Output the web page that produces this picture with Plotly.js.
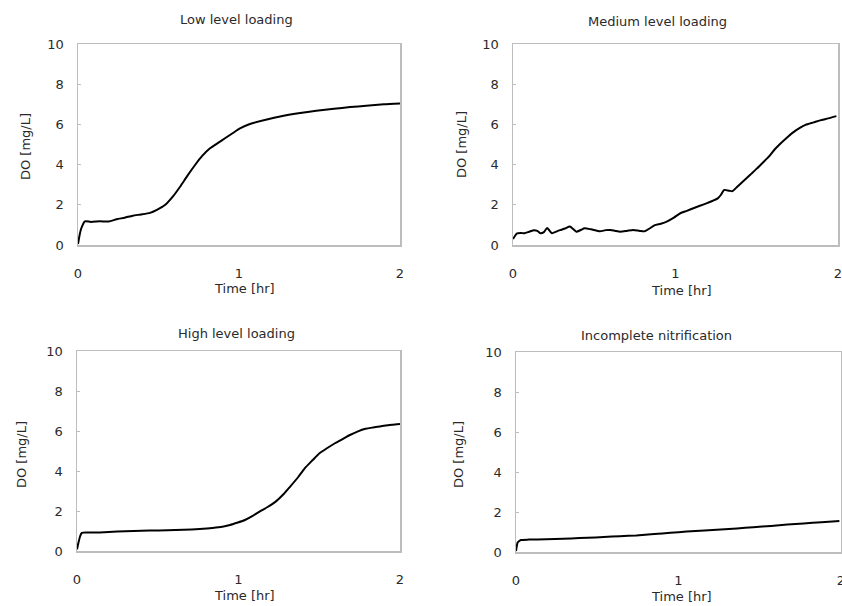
<!DOCTYPE html>
<html>
<head>
<meta charset="utf-8">
<script src="https://cdn.plot.ly/plotly-3.0.1.min.js"></script>
<style>html,body{margin:0;padding:0;background:#fff;}</style>
</head>
<body>
<div id="chart" style="width:842px;height:606px;"></div>
<script>
// ---- Data ----
var panelTitles = ["Low level loading", "Medium level loading", "High level loading", "Incomplete nitrification"];
var xTickVals = [0, 1, 2];
var yTickVals = [0, 2, 4, 6, 8, 10];

var timeLow = [0, 0.01, 0.02, 0.043, 0.08, 0.137, 0.19, 0.24, 0.29, 0.34, 0.39, 0.447, 0.49, 0.54, 0.59, 0.634, 0.68, 0.727, 0.77, 0.82, 0.87, 0.913, 0.96, 1.006, 1.068, 1.16, 1.27, 1.38, 1.48, 1.59, 1.69, 1.79, 1.90, 2.0];
var doLow   = [0.05, 0.5, 0.82, 1.18, 1.15, 1.18, 1.17, 1.28, 1.36, 1.46, 1.52, 1.6, 1.75, 1.99, 2.42, 2.9, 3.45, 3.98, 4.42, 4.81, 5.08, 5.31, 5.56, 5.8, 6.02, 6.22, 6.42, 6.57, 6.68, 6.78, 6.86, 6.93, 7.0, 7.04];

var timeMed = [0, 0.012, 0.025, 0.05, 0.07, 0.1, 0.13, 0.15, 0.17, 0.19, 0.21, 0.23, 0.24, 0.27, 0.29, 0.32, 0.35, 0.37, 0.39, 0.42, 0.44, 0.48, 0.535, 0.57, 0.6, 0.63, 0.66, 0.7, 0.74, 0.78, 0.81, 0.84, 0.87, 0.91, 0.946, 0.99, 1.03, 1.07, 1.11, 1.15, 1.19, 1.23, 1.26, 1.28, 1.30, 1.33, 1.35, 1.38, 1.42, 1.46, 1.50, 1.54, 1.58, 1.61, 1.64, 1.68, 1.72, 1.76, 1.80, 1.85, 1.89, 1.94, 1.99];
var doMed   = [0.3, 0.45, 0.58, 0.6, 0.58, 0.66, 0.74, 0.7, 0.58, 0.64, 0.85, 0.66, 0.58, 0.68, 0.74, 0.82, 0.92, 0.8, 0.66, 0.76, 0.83, 0.78, 0.68, 0.74, 0.75, 0.7, 0.66, 0.7, 0.75, 0.7, 0.68, 0.82, 0.98, 1.06, 1.16, 1.36, 1.58, 1.7, 1.83, 1.95, 2.07, 2.2, 2.32, 2.5, 2.74, 2.7, 2.68, 2.9, 3.2, 3.5, 3.8, 4.12, 4.45, 4.75, 5.0, 5.3, 5.58, 5.8, 5.98, 6.1, 6.2, 6.3, 6.41];

var timeHigh = [0, 0.01, 0.02, 0.03, 0.08, 0.14, 0.25, 0.35, 0.45, 0.56, 0.66, 0.76, 0.84, 0.9, 0.947, 0.99, 1.04, 1.085, 1.13, 1.18, 1.23, 1.28, 1.32, 1.37, 1.41, 1.46, 1.50, 1.55, 1.60, 1.65, 1.69, 1.74, 1.78, 1.85, 1.90, 1.95, 2.0];
var doHigh   = [0.08, 0.45, 0.75, 0.91, 0.92, 0.93, 0.97, 1.0, 1.02, 1.04, 1.06, 1.1, 1.15, 1.21, 1.3, 1.41, 1.55, 1.74, 1.97, 2.2, 2.47, 2.85, 3.22, 3.7, 4.13, 4.55, 4.88, 5.15, 5.4, 5.62, 5.8, 5.98, 6.1, 6.2, 6.26, 6.31, 6.35];

var timeInc = [0, 0.005, 0.01, 0.02, 0.03, 0.08, 0.13, 0.24, 0.34, 0.44, 0.54, 0.64, 0.74, 0.85, 0.95, 1.05, 1.16, 1.26, 1.36, 1.46, 1.57, 1.67, 1.77, 1.88, 1.99];
var doInc   = [0.05, 0.3, 0.47, 0.55, 0.6, 0.62, 0.63, 0.65, 0.68, 0.71, 0.75, 0.79, 0.83, 0.9, 0.96, 1.02, 1.08, 1.13, 1.18, 1.24, 1.3, 1.37, 1.43, 1.49, 1.55];

var xAxisTitle = "Time [hr]";
var yAxisTitle = "DO [mg/L]";

// ---- Layout geometry (pixels in the 842x606 picture) ----
var W = 842, H = 606;
var boxes = [
  {l: 78,  r: 400, t: 44,  b: 245},
  {l: 513, r: 838, t: 44,  b: 245},
  {l: 77,  r: 400, t: 351, b: 551},
  {l: 516, r: 841, t: 352, b: 552}
];
var titlePos = [
  {x: 236, y: 20}, {x: 657, y: 21}, {x: 236, y: 333}, {x: 656, y: 335}
];
var xTitlePos = [
  {x: 244, y: 288}, {x: 681, y: 290}, {x: 244, y: 595}, {x: 681, y: 596}
];
var yTitlePos = [
  {x: 25, y: 147}, {x: 461, y: 145}, {x: 21, y: 455}, {x: 458, y: 455}
];

var times = [timeLow, timeMed, timeHigh, timeInc];
var values = [doLow, doMed, doHigh, doInc];

var textColor = "#2a2a2a";
var frameColor = "#bdbdbd";
var fontFam = "DejaVu Sans, Arial, sans-serif";

var data = [];
var layout = {
  width: W, height: H,
  margin: {l: 0, r: 0, t: 0, b: 0},
  paper_bgcolor: "#ffffff",
  plot_bgcolor: "#ffffff",
  showlegend: false,
  font: {family: fontFam, size: 13, color: textColor},
  annotations: []
};

for (var i = 0; i < 4; i++) {
  var n = i === 0 ? "" : String(i + 1);
  data.push({
    type: "scatter", mode: "lines",
    x: times[i], y: values[i],
    xaxis: "x" + n, yaxis: "y" + n,
    line: {color: "#000000", width: 2, shape: "spline", smoothing: 0.6},
    hoverinfo: "skip"
  });
  var b = boxes[i];
  layout["xaxis" + n] = {
    domain: [b.l / W, b.r / W],
    anchor: "y" + n,
    range: [0, 2],
    tickvals: xTickVals,
    ticktext: xTickVals.map(String),
    ticks: "",
    ticklabelstandoff: 16,
    ticklabeloverflow: "allow",
    showgrid: false, zeroline: false,
    showline: true, mirror: true,
    linecolor: frameColor, linewidth: 1.5,
    tickfont: {family: fontFam, size: 13, color: textColor},
    fixedrange: true
  };
  layout["yaxis" + n] = {
    domain: [1 - b.b / H, 1 - b.t / H],
    anchor: "x" + n,
    range: [0, 10],
    tickvals: yTickVals,
    ticktext: yTickVals.map(String),
    ticks: "inside", ticklen: 3, tickcolor: frameColor, tickwidth: 1,
    ticklabelstandoff: 10,
    ticklabeloverflow: "allow",
    showgrid: false, zeroline: false,
    showline: true, mirror: true,
    linecolor: frameColor, linewidth: 1.5,
    tickfont: {family: fontFam, size: 13, color: textColor},
    fixedrange: true
  };
  layout.annotations.push({
    text: panelTitles[i], xref: "paper", yref: "paper",
    x: titlePos[i].x / W, y: 1 - titlePos[i].y / H,
    xanchor: "center", yanchor: "middle", showarrow: false,
    font: {family: fontFam, size: 13, color: textColor}
  });
  layout.annotations.push({
    text: xAxisTitle, xref: "paper", yref: "paper",
    x: xTitlePos[i].x / W, y: 1 - xTitlePos[i].y / H,
    xanchor: "center", yanchor: "middle", showarrow: false,
    font: {family: fontFam, size: 13, color: textColor}
  });
  layout.annotations.push({
    text: yAxisTitle, xref: "paper", yref: "paper",
    x: yTitlePos[i].x / W, y: 1 - yTitlePos[i].y / H,
    xanchor: "center", yanchor: "middle", showarrow: false, textangle: -90,
    font: {family: fontFam, size: 13, color: textColor}
  });
}

Plotly.newPlot("chart", data, layout, {displayModeBar: false, staticPlot: true});
</script>
</body>
</html>
